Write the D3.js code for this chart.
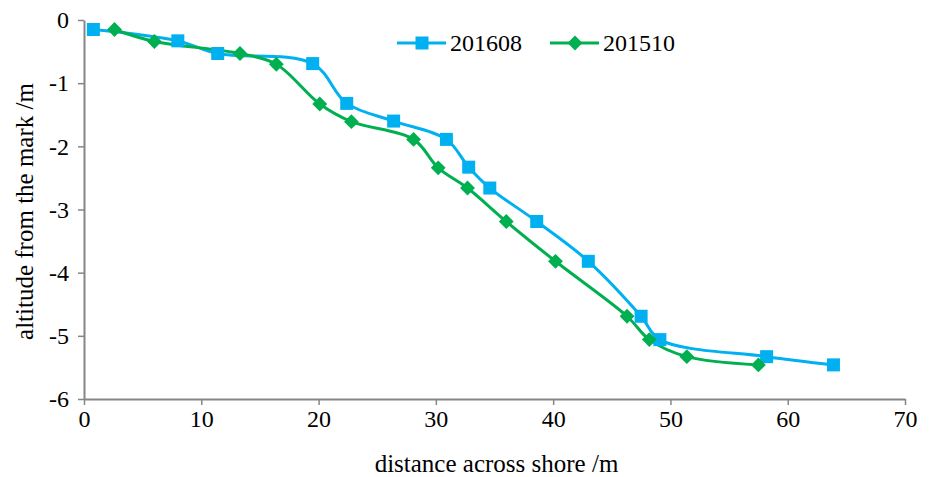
<!DOCTYPE html>
<html>
<head>
<meta charset="utf-8">
<script src="https://cdn.jsdelivr.net/npm/d3@7"></script>
<style>
  body { margin: 0; background: #fff; }
</style>
</head>
<body>
<div id="chart"></div>
<script>
// 数据：两次剖面测量
const dist201608 = [0.8, 8.0, 11.4, 19.5, 22.4, 26.4, 30.9, 32.8, 34.6, 38.6, 43.0, 47.5, 49.1, 58.2, 63.9];
const alt201608 = [-0.15, -0.33, -0.53, -0.69, -1.32, -1.60, -1.89, -2.33, -2.66, -3.19, -3.82, -4.69, -5.06, -5.33, -5.46];
const dist201510 = [2.6, 6.0, 13.3, 16.4, 20.1, 22.8, 28.1, 30.2, 32.7, 36.0, 40.2, 46.3, 48.2, 51.4, 57.5];
const alt201510 = [-0.15, -0.34, -0.53, -0.70, -1.33, -1.61, -1.89, -2.34, -2.66, -3.19, -3.82, -4.69, -5.06, -5.33, -5.46];
const xTicks = [0, 10, 20, 30, 40, 50, 60, 70];
const yTicks = [0, -1, -2, -3, -4, -5, -6];
const seriesNames = ['201608', '201510'];
const colors = ['#00B0F0', '#00B050'];

const FONT = 'Liberation Serif';

const width = 932, height = 477;
const margin = { left: 84, right: 27, top: 20, bottom: 78 };

const svg = d3.select('#chart').append('svg')
    .attr('width', width)
    .attr('height', height);

const x = d3.scaleLinear().domain([0, 70]).range([margin.left, width - margin.right]);
const y = d3.scaleLinear().domain([-6, 0]).range([height - margin.bottom, margin.top]);

// 坐标轴
const xAxis = svg.append('g')
    .attr('transform', `translate(0,${y(-6)})`)
    .call(d3.axisBottom(x).tickValues(xTicks).tickFormat(d => String(d))
        .tickSize(6).tickSizeOuter(0).tickPadding(5));
const yAxis = svg.append('g')
    .attr('transform', `translate(${x(0)},0)`)
    .call(d3.axisLeft(y).tickValues(yTicks).tickFormat(d => String(d))
        .tickSize(6).tickSizeOuter(0).tickPadding(9));

[xAxis, yAxis].forEach(a => {
    a.attr('font-family', FONT);
    a.select('.domain').attr('stroke', '#868686').attr('stroke-width', 2);
    a.selectAll('.tick line').attr('stroke', '#868686').attr('stroke-width', 1.5);
    a.selectAll('.tick text').attr('font-size', 24).attr('fill', '#000')
        .attr('font-family', FONT);
});

svg.append('text')
    .attr('x', (x(0) + x(70)) / 2 + 2)
    .attr('y', 472)
    .attr('text-anchor', 'middle')
    .attr('font-family', FONT)
    .attr('font-size', 25)
    .text('distance across shore /m');

svg.append('text')
    .attr('transform', `translate(33,${(y(0) + y(-6)) / 2 + 2}) rotate(-90)`)
    .attr('text-anchor', 'middle')
    .attr('font-family', FONT)
    .attr('font-size', 25)
    .text('altitude from the mark /m');

// 折线 + 标记
const line = d3.line()
    .x(d => x(d[0]))
    .y(d => y(d[1]))
    .curve(d3.curveCatmullRom.alpha(0.5));

const series = [
    d3.zip(dist201608, alt201608),
    d3.zip(dist201510, alt201510)
];

series.forEach((pts, i) => {
    svg.append('path')
        .datum(pts)
        .attr('fill', 'none')
        .attr('stroke', colors[i])
        .attr('stroke-width', 3)
        .attr('d', line);
});

const square = d3.symbol().type(d3.symbolSquare).size(169);
const diamond = d3.symbol().type(d3.symbolSquare).size(110);

function drawMarker(g, i, cx, cy) {
    if (i === 0) {
        g.append('path').attr('d', square())
            .attr('transform', `translate(${cx},${cy})`)
            .attr('fill', colors[0]);
    } else {
        g.append('path').attr('d', diamond())
            .attr('transform', `translate(${cx},${cy}) rotate(45)`)
            .attr('fill', colors[1]);
    }
}

series.forEach((pts, i) => {
    const g = svg.append('g');
    pts.forEach(p => drawMarker(g, i, x(p[0]), y(p[1])));
});

// 图例
const legendX = [397, 550];
seriesNames.forEach((name, i) => {
    const lg = svg.append('g');
    lg.append('line')
        .attr('x1', legendX[i]).attr('x2', legendX[i] + 49)
        .attr('y1', 43).attr('y2', 43)
        .attr('stroke', colors[i]).attr('stroke-width', 3);
    drawMarker(lg, i, legendX[i] + 25, 43);
    lg.append('text')
        .attr('x', legendX[i] + 53)
        .attr('y', 51)
        .attr('font-family', FONT)
        .attr('font-size', 24)
        .text(name);
});
</script>
</body>
</html>
